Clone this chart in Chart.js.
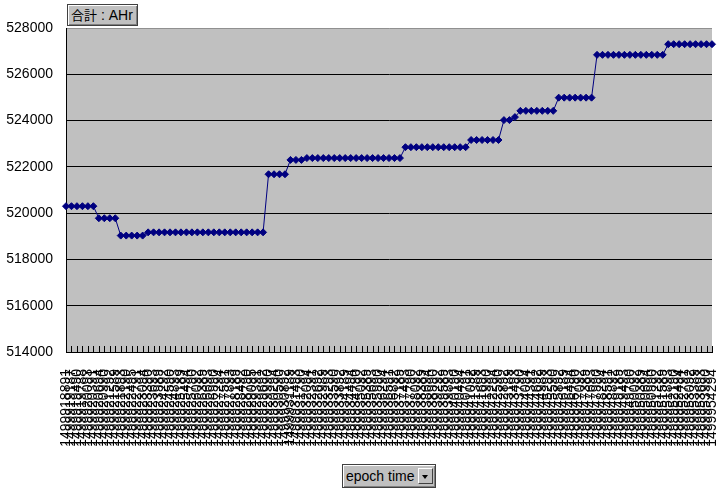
<!DOCTYPE html>
<html>
<head>
<meta charset="utf-8">
<script src="https://cdn.jsdelivr.net/npm/chart.js@4/dist/chart.umd.min.js"></script>
<style>
  html, body { margin: 0; padding: 0; background: #fff; }
  #wrap { position: relative; width: 718px; height: 489px; }
  canvas { position: absolute; left: 0; top: 0; }
  .btn {
    position: absolute; background: #c0c0c0; color: #000;
    font-family: "Liberation Sans", Arial, "Noto Sans CJK JP", sans-serif;
    font-size: 14px; box-sizing: border-box;
    border: 1px solid #404040;
    box-shadow: inset 1px 1px 0 #ffffff, inset -1px -1px 0 #808080;
    white-space: nowrap; overflow: hidden;
  }
  #fieldBtn { left: 67px; top: 4px; width: 71px; height: 22px; line-height: 20px; padding-left: 3px; }
  #axisBtn { left: 342px; top: 464px; width: 94px; height: 24px; line-height: 22px; padding-left: 3px; }
  #drop {
    position: absolute; right: 2px; top: 3px; width: 15px; height: 16px; background: #c0c0c0;
    box-sizing: border-box; border: 1px solid; border-color: #fff #404040 #404040 #fff;
  }
  #drop:after {
    content: ""; position: absolute; left: 3px; top: 6px;
    border-left: 3.5px solid transparent; border-right: 3.5px solid transparent; border-top: 4px solid #000;
  }
</style>
</head>
<body>
<div id="wrap">
  <canvas id="c" width="718" height="489"></canvas>
  <div class="btn" id="fieldBtn"><span style="font-family:'Noto Sans CJK JP',sans-serif;font-size:13px">合計</span> : AHr</div>
  <div class="btn" id="axisBtn">epoch time<span id="drop"></span></div>
</div>
<script>
// Category labels (epoch time)
const epochLabels = [
  "1499918891","1499919187","1499919490","1499919788","1499920093","1499920391","1499920694","1499920990",
  "1499921292","1499921589","1499921893","1499922190","1499922495","1499922791","1499923094","1499923390",
  "1499923693","1499923989","1499924292","1499924590","1499924893","1499925189","1499925494","1499925790",
  "1499926092","1499926389","1499926693","1499926990","1499927294","1499927591","1499927893","1499928189",
  "1499928492","1499928790","1499929095","1499929391","1499929692","1499929990","1499930294","1499930590",
  "1499930892","1499931189","1499931493","1499931790","1499932094","1499932391","1499932692","1499932989",
  "1499933293","1499933590","1499933892","1499934189","1499934494","1499934790","1499935092","1499935389",
  "1499935693","1499935990","1499936294","1499936591","1499936892","1499937189","1499937493","1499937790",
  "1499938092","1499938389","1499938694","1499938990","1499939292","1499939589","1499939893","1499940190",
  "1499940494","1499940791","1499941092","1499941389","1499941693","1499941990","1499942294","1499942590",
  "1499942892","1499943189","1499943493","1499943790","1499944094","1499944391","1499944692","1499944989",
  "1499945293","1499945590","1499945892","1499946189","1499946494","1499946790","1499947092","1499947389",
  "1499947693","1499947990","1499948294","1499948591","1499948892","1499949189","1499949493","1499949790",
  "1499950092","1499950389","1499950694","1499950990","1499951292","1499951589","1499951893","1499952190",
  "1499952494","1499952791","1499953092","1499953389","1499953693","1499953990","1499954294"
];

// Series: 合計 : AHr
const ahrValues = [
  520300,520300,520300,520300,520300,520300,
  519780,519780,519780,519780,
  519030,519030,519030,519030,519030,
  519170,519170,519170,519170,519170,519170,519170,519170,519170,519170,519170,
  519170,519170,519170,519170,519170,519170,519170,519170,519170,519170,519170,
  521680,521680,521680,521680,
  522300,522300,522300,
  522380,522380,522380,522380,522380,522380,522380,522380,522380,
  522380,522380,522380,522380,522380,522380,522380,522380,522380,
  522850,522850,522850,522850,522850,522850,522850,522850,522850,522850,522850,522850,
  523160,523160,523160,523160,523160,523160,
  524020,524020,524150,
  524420,524420,524420,524420,524420,524420,524420,
  524990,524990,524990,524990,524990,524990,524990,
  526840,526840,526840,526840,526840,526840,526840,526840,526840,526840,526840,526840,526840,
  527300,527300,527300,527300,527300,527300,527300,527300,527300
];

// Value axis
const yMin = 514000;
const yMax = 528000;
const yStep = 2000;

const plotBg = {
  id: 'plotBg',
  beforeDraw(chart) {
    const a = chart.chartArea, ctx = chart.ctx;
    ctx.save();
    ctx.fillStyle = '#c0c0c0';
    ctx.fillRect(a.left, a.top, a.right - a.left, a.bottom - a.top);
    ctx.restore();
  },
  beforeDatasetsDraw(chart) {
    const x = chart.scales.x, a = chart.chartArea, ctx = chart.ctx;
    ctx.save();
    ctx.strokeStyle = '#000';
    ctx.lineWidth = 1;
    ctx.beginPath();
    for (let i = 0; i < x.ticks.length; i++) {
      const px = Math.round(x.getPixelForTick(i)) + 0.5;
      ctx.moveTo(px, a.bottom - 6);
      ctx.lineTo(px, a.bottom);
    }
    ctx.stroke();
    ctx.restore();
  }
};

new Chart(document.getElementById('c'), {
  type: 'line',
  data: {
    labels: epochLabels,
    datasets: [{
      label: '合計 : AHr',
      data: ahrValues,
      borderColor: '#000080',
      backgroundColor: '#000080',
      borderWidth: 1,
      pointStyle: 'rectRot',
      pointRadius: 3.5,
      pointBorderWidth: 1,
      tension: 0
    }]
  },
  options: {
    responsive: false,
    animation: false,
    devicePixelRatio: 1,
    layout: { padding: { top: 28, right: 6, left: 0, bottom: 0 } },
    plugins: { legend: { display: false }, tooltip: { enabled: false } },
    scales: {
      x: {
        grid: { display: false },
        border: { display: true, color: '#000', width: 1 },
        ticks: {
          autoSkip: false, maxRotation: 90, minRotation: 90, padding: 9,
          color: '#000', font: { family: '"Liberation Sans", Arial, sans-serif', size: 14 }
        },
        afterFit(s) { s.height = 137; s.paddingLeft = 0; s.paddingRight = 0; }
      },
      y: {
        min: yMin, max: yMax,
        grid: {
          drawTicks: false,
          color: (c) => (c.tick && c.tick.value === yMax) ? '#909090' : '#000'
        },
        border: { display: true, color: '#000', width: 1 },
        ticks: {
          stepSize: yStep, padding: 13, color: '#000',
          font: { family: '"Liberation Sans", Arial, sans-serif', size: 14 },
          callback: (v) => String(v)
        },
        afterFit(s) { s.width = 66; s.paddingTop = 0; s.paddingBottom = 0; }
      }
    }
  },
  plugins: [plotBg]
});
</script>
</body>
</html>
